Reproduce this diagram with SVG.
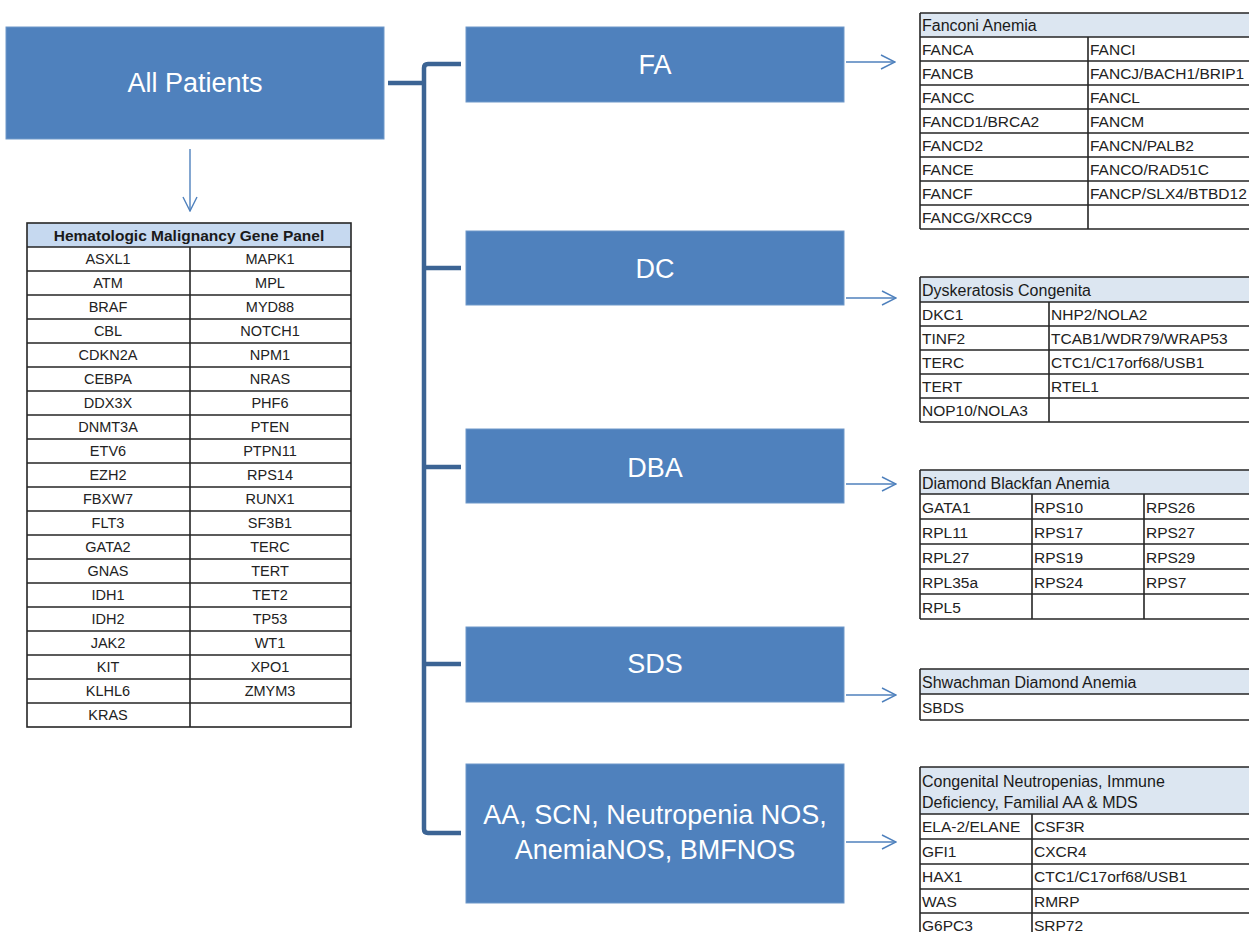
<svg xmlns="http://www.w3.org/2000/svg" width="1249" height="932" viewBox="0 0 1249 932">
<style>
.box{fill:#4f81bd;stroke:#6f98c9;stroke-width:1}
.bt{font-family:"Liberation Sans",Arial,sans-serif;font-size:27px;fill:#ffffff;text-anchor:middle}
.trunk{fill:none;stroke:#3c6494;stroke-width:4.5}
.arr{fill:none;stroke:#4f81bd;stroke-width:1.4}
.grid{fill:none;stroke:#262626;stroke-width:1.6}
.hl{fill:#c6d9f0}
.hr{fill:#dce6f1}
.lh{font-family:"Liberation Sans",Arial,sans-serif;font-size:15.5px;font-weight:bold;fill:#1a1a1a;text-anchor:middle}
.ld{font-family:"Liberation Sans",Arial,sans-serif;font-size:14.5px;fill:#222;text-anchor:middle}
.rh{font-family:"Liberation Sans",Arial,sans-serif;font-size:16px;fill:#1a1a1a}
.rd{font-family:"Liberation Sans",Arial,sans-serif;font-size:15.5px;fill:#222}
</style>
<defs>
<marker id="ah" viewBox="0 0 16 16" markerUnits="userSpaceOnUse" markerWidth="16" markerHeight="16" refX="15" refY="8" orient="auto">
<path d="M1,1 L15,8 L1,15" fill="none" stroke="#4f81bd" stroke-width="1.4"/>
</marker>
</defs>
<rect width="1249" height="932" fill="#ffffff"/>

<g id="connectors">
<line class="trunk" x1="388" y1="83" x2="424" y2="83"/>
<path class="trunk" d="M461,64 H428 Q424,64 424,68 V829 Q424,833 428,833 H461"/>
<line class="trunk" x1="424" y1="268" x2="461" y2="268"/>
<line class="trunk" x1="424" y1="467" x2="461" y2="467"/>
<line class="trunk" x1="424" y1="664" x2="461" y2="664"/>
<line class="arr" x1="190" y1="149" x2="190" y2="211" marker-end="url(#ah)"/>
<line class="arr" x1="846" y1="62" x2="895" y2="62" marker-end="url(#ah)"/>
<line class="arr" x1="846" y1="298" x2="896" y2="298" marker-end="url(#ah)"/>
<line class="arr" x1="846" y1="484" x2="896" y2="484" marker-end="url(#ah)"/>
<line class="arr" x1="846" y1="695" x2="896" y2="695" marker-end="url(#ah)"/>
<line class="arr" x1="846" y1="842" x2="896" y2="842" marker-end="url(#ah)"/>
</g>

<g id="all-patients">
<rect class="box" x="6" y="27" width="378" height="112"/>
<text class="bt" x="195" y="92">All Patients</text>
</g>
<g id="fa">
<rect class="box" x="466" y="27" width="378" height="75"/>
<text class="bt" x="655" y="74">FA</text>
</g>
<g id="dc">
<rect class="box" x="466" y="231" width="378" height="74"/>
<text class="bt" x="655" y="278">DC</text>
</g>
<g id="dba">
<rect class="box" x="466" y="429" width="378" height="74"/>
<text class="bt" x="655" y="477">DBA</text>
</g>
<g id="sds">
<rect class="box" x="466" y="627" width="378" height="75"/>
<text class="bt" x="655" y="673">SDS</text>
</g>
<g id="aa">
<rect class="box" x="466" y="764" width="378" height="139"/>
<text class="bt" x="655" y="824">AA, SCN, Neutropenia NOS,</text>
<text class="bt" x="655" y="859">AnemiaNOS, BMFNOS</text>
</g>

<g id="heme-panel">
<rect class="hl" x="27" y="223" width="324" height="24"/>
<text class="lh" x="189" y="241">Hematologic Malignancy Gene Panel</text>
<rect class="grid" x="27" y="223" width="324" height="504"/>
<path class="grid" d="M27,247H351M27,271H351M27,295H351M27,319H351M27,343H351M27,367H351M27,391H351M27,415H351M27,439H351M27,463H351M27,487H351M27,511H351M27,535H351M27,559H351M27,583H351M27,607H351M27,631H351M27,655H351M27,679H351M27,703H351M190,247V727"/>
<text class="ld" x="108" y="264">ASXL1</text><text class="ld" x="270" y="264">MAPK1</text>
<text class="ld" x="108" y="288">ATM</text><text class="ld" x="270" y="288">MPL</text>
<text class="ld" x="108" y="312">BRAF</text><text class="ld" x="270" y="312">MYD88</text>
<text class="ld" x="108" y="336">CBL</text><text class="ld" x="270" y="336">NOTCH1</text>
<text class="ld" x="108" y="360">CDKN2A</text><text class="ld" x="270" y="360">NPM1</text>
<text class="ld" x="108" y="384">CEBPA</text><text class="ld" x="270" y="384">NRAS</text>
<text class="ld" x="108" y="408">DDX3X</text><text class="ld" x="270" y="408">PHF6</text>
<text class="ld" x="108" y="432">DNMT3A</text><text class="ld" x="270" y="432">PTEN</text>
<text class="ld" x="108" y="456">ETV6</text><text class="ld" x="270" y="456">PTPN11</text>
<text class="ld" x="108" y="480">EZH2</text><text class="ld" x="270" y="480">RPS14</text>
<text class="ld" x="108" y="504">FBXW7</text><text class="ld" x="270" y="504">RUNX1</text>
<text class="ld" x="108" y="528">FLT3</text><text class="ld" x="270" y="528">SF3B1</text>
<text class="ld" x="108" y="552">GATA2</text><text class="ld" x="270" y="552">TERC</text>
<text class="ld" x="108" y="576">GNAS</text><text class="ld" x="270" y="576">TERT</text>
<text class="ld" x="108" y="600">IDH1</text><text class="ld" x="270" y="600">TET2</text>
<text class="ld" x="108" y="624">IDH2</text><text class="ld" x="270" y="624">TP53</text>
<text class="ld" x="108" y="648">JAK2</text><text class="ld" x="270" y="648">WT1</text>
<text class="ld" x="108" y="672">KIT</text><text class="ld" x="270" y="672">XPO1</text>
<text class="ld" x="108" y="696">KLHL6</text><text class="ld" x="270" y="696">ZMYM3</text>
<text class="ld" x="108" y="720">KRAS</text>
</g>

<g id="fanconi-table">
<rect class="hr" x="920" y="13" width="340" height="24"/>
<text class="rh" x="922" y="31">Fanconi Anemia</text>
<path class="grid" d="M920,13V229M920,13H1260M920,37H1260M920,61H1260M920,85H1260M920,109H1260M920,133H1260M920,157H1260M920,181H1260M920,205H1260M920,229H1260M1088,37V229"/>
<text class="rd" x="922" y="55">FANCA</text><text class="rd" x="1090" y="55">FANCI</text>
<text class="rd" x="922" y="79">FANCB</text><text class="rd" x="1090" y="79">FANCJ/BACH1/BRIP1</text>
<text class="rd" x="922" y="103">FANCC</text><text class="rd" x="1090" y="103">FANCL</text>
<text class="rd" x="922" y="127">FANCD1/BRCA2</text><text class="rd" x="1090" y="127">FANCM</text>
<text class="rd" x="922" y="151">FANCD2</text><text class="rd" x="1090" y="151">FANCN/PALB2</text>
<text class="rd" x="922" y="175">FANCE</text><text class="rd" x="1090" y="175">FANCO/RAD51C</text>
<text class="rd" x="922" y="199">FANCF</text><text class="rd" x="1090" y="199">FANCP/SLX4/BTBD12</text>
<text class="rd" x="922" y="223">FANCG/XRCC9</text>
</g>

<g id="dc-table">
<rect class="hr" x="920" y="277" width="340" height="25"/>
<text class="rh" x="922" y="296">Dyskeratosis Congenita</text>
<path class="grid" d="M920,277V422M920,277H1260M920,302H1260M920,326H1260M920,350H1260M920,374H1260M920,398H1260M920,422H1260M1049,302V422"/>
<text class="rd" x="922" y="320">DKC1</text><text class="rd" x="1051" y="320">NHP2/NOLA2</text>
<text class="rd" x="922" y="344">TINF2</text><text class="rd" x="1051" y="344">TCAB1/WDR79/WRAP53</text>
<text class="rd" x="922" y="368">TERC</text><text class="rd" x="1051" y="368">CTC1/C17orf68/USB1</text>
<text class="rd" x="922" y="392">TERT</text><text class="rd" x="1051" y="392">RTEL1</text>
<text class="rd" x="922" y="416">NOP10/NOLA3</text>
</g>

<g id="dba-table">
<rect class="hr" x="920" y="470" width="340" height="24"/>
<text class="rh" x="922" y="489">Diamond Blackfan Anemia</text>
<path class="grid" d="M920,470V619M920,470H1260M920,494H1260M920,519H1260M920,544H1260M920,569H1260M920,594H1260M920,619H1260M1032,494V619M1144,494V619"/>
<text class="rd" x="922" y="513">GATA1</text><text class="rd" x="1034" y="513">RPS10</text><text class="rd" x="1146" y="513">RPS26</text>
<text class="rd" x="922" y="538">RPL11</text><text class="rd" x="1034" y="538">RPS17</text><text class="rd" x="1146" y="538">RPS27</text>
<text class="rd" x="922" y="563">RPL27</text><text class="rd" x="1034" y="563">RPS19</text><text class="rd" x="1146" y="563">RPS29</text>
<text class="rd" x="922" y="588">RPL35a</text><text class="rd" x="1034" y="588">RPS24</text><text class="rd" x="1146" y="588">RPS7</text>
<text class="rd" x="922" y="613">RPL5</text>
</g>

<g id="sds-table">
<rect class="hr" x="920" y="669" width="340" height="25"/>
<text class="rh" x="922" y="688">Shwachman Diamond Anemia</text>
<path class="grid" d="M920,669V720M920,669H1260M920,694H1260M920,720H1260"/>
<text class="rd" x="922" y="713">SBDS</text>
</g>

<g id="cn-table">
<rect class="hr" x="920" y="767" width="340" height="47"/>
<text class="rh" x="922" y="787">Congenital Neutropenias,  Immune</text>
<text class="rh" x="922" y="808">Deficiency, Familial AA &amp; MDS</text>
<path class="grid" d="M920,767V940M920,767H1260M920,814H1260M920,839H1260M920,864H1260M920,889H1260M920,913H1260M1032,814V940"/>
<text class="rd" x="922" y="832">ELA-2/ELANE</text><text class="rd" x="1034" y="832">CSF3R</text>
<text class="rd" x="922" y="857">GFI1</text><text class="rd" x="1034" y="857">CXCR4</text>
<text class="rd" x="922" y="882">HAX1</text><text class="rd" x="1034" y="882">CTC1/C17orf68/USB1</text>
<text class="rd" x="922" y="907">WAS</text><text class="rd" x="1034" y="907">RMRP</text>
<text class="rd" x="922" y="931">G6PC3</text><text class="rd" x="1034" y="931">SRP72</text>
</g>
</svg>
